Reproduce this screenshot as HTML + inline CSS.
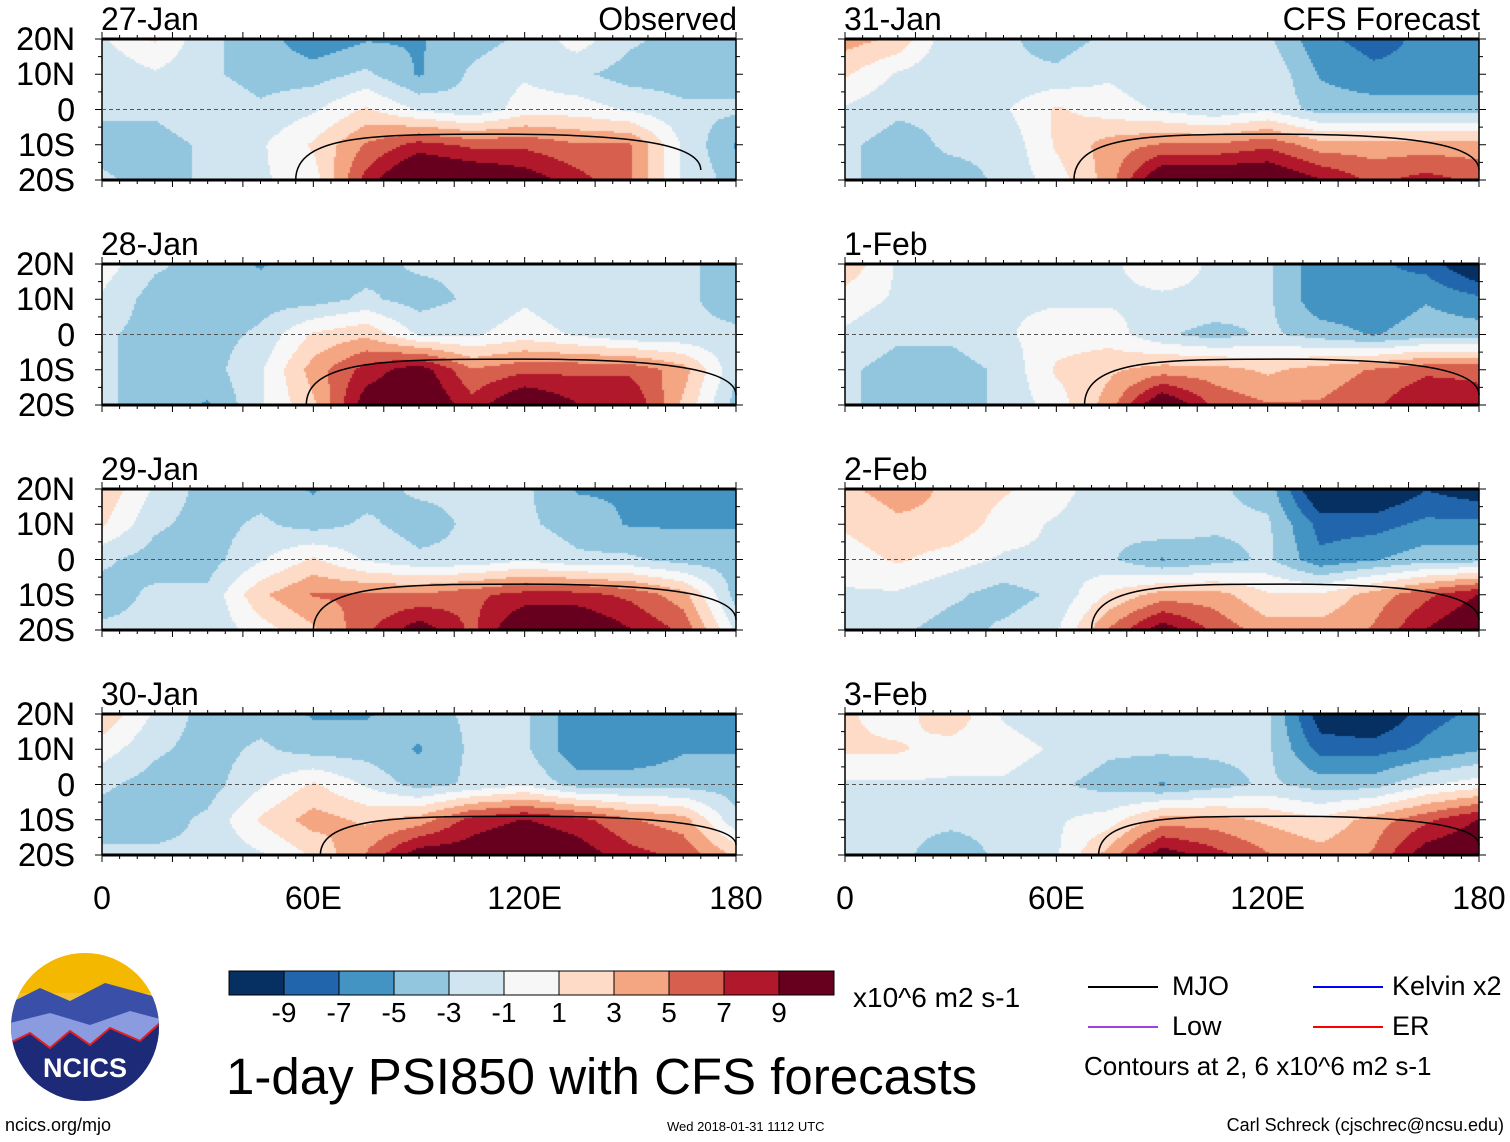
<!DOCTYPE html>
<html><head><meta charset="utf-8">
<style>
body{margin:0;background:#fff;width:1510px;height:1142px;position:relative;overflow:hidden;font-family:"Liberation Sans",sans-serif;color:#000}
.abs{position:absolute;white-space:nowrap}
.lab{font-size:32px;line-height:32px}
canvas{position:absolute}
#svg{z-index:5}
</style></head><body>
<div id="root"></div>
<svg id="svg" width="1510" height="1142" style="position:absolute;left:0;top:0"></svg>
<script>
// Grid nodes: rows 20N,10N,0,10S,20S; columns 0..180E every 15 deg
const panelDates=["27-Jan","28-Jan","29-Jan","30-Jan","31-Jan","1-Feb","2-Feb","3-Feb"];
const f0=[[-1,1,-2,-3,-5,-4,-4,-3,-2,0,-2,-3,-3],[-2,-1,-2,-3,-3,-2,-4,-2,-1,-2,-3,-3,-3],[-2,-2,-1,-2,-1,1,-1,-2,0,0,-1,-2,-2],[-3,-3,-2,-1,1,4,6,5,5,4,4,-1,-4],[-2,-3,-2,-1,0,6,10,9,8,6,4,-1,-3]];
const f1=[[0,-2,-3,-4,-3,-3,-2,-2,-2,-2,-2,-2,-3],[-1,-3,-3,-3,-3,-2,-3,-2,-1,-2,-2,-2,-3],[-2,-3,-3,-2,1,2,-1,-1,0,-1,-2,-2,-2],[-2,-3,-3,-1,3,6,8,4,5,5,5,3,-2],[-2,-3,-4,-1,2,8,9,6,9,7,7,2,-3]];
const f2=[[2,-1,-3,-3,-4,-3,-2,-2,-2,-4,-4,-4,-4],[1,-2,-3,-2,-3,-2,-3,-2,-2,-3,-4,-4,-4],[-2,-3,-3,-1,1,-1,-2,-2,-1,-2,-2,-3,-3],[-3,-2,-2,2,4,4,4,5,6,6,5,3,-3],[-2,-2,-2,0,2,5,8,5,9,9,7,5,-1]];
const f3=[[2,-1,-3,-3,-4,-4,-3,-2,-2,-5,-5,-4,-4],[0,-2,-3,-2,-3,-3,-4,-2,-2,-5,-5,-4,-4],[-2,-3,-3,-1,1,-1,-3,-2,-1,-3,-3,-3,-3],[-3,-3,-2,1,3,2,3,6,7,6,4,3,-2],[-2,-2,-2,-1,1,4,8,8,9,8,6,5,2]];
const f4=[[3,2,-2,-2,-3,-2,-1,-2,-2,-5,-6,-5,-5],[1,-1,-2,-2,-2,-1,-2,-1,-1,-4,-5,-5,-5],[-1,-2,-2,-1,1,0,-1,-2,-1,-3,-3,-3,-3],[-2,-3,-2,-2,1,3,4,4,5,3,3,3,3],[-2,-3,-3,-2,0,3,9,9,9,7,5,6,5]];
const f5=[[2,-1,-1,-2,-2,-1,0,-1,-2,-5,-5,-6,-9],[0,-1,-2,-1,-1,-1,-1,-1,-2,-5,-5,-4,-5],[-1,-2,-2,-1,0,0,-2,-3,-2,-3,-4,-3,-3],[-2,-3,-3,-2,1,2,3,3,2,3,4,5,5],[-2,-3,-3,-2,0,3,9,5,4,4,5,7,6]];
const f6=[[2,3,2,1,0,-2,-1,-2,-3,-9,-9,-7,-8],[1,2,2,0,-1,-2,-1,-2,-2,-6,-6,-5,-5],[0,1,0,-1,-1,-2,-4,-3,-2,-5,-4,-3,-3],[-1,-1,-2,-3,-2,1,3,3,1,1,3,5,7],[-2,-2,-3,-2,-1,4,8,5,3,3,4,7,9]];
const f7=[[1,0,2,-1,-2,-2,-2,-2,-2,-8,-9,-6,-5],[1,1,0,0,-1,-2,-2,-2,-2,-6,-6,-5,-4],[-1,-1,-1,-1,-2,-3,-4,-3,-2,-3,-3,-1,0],[-2,-2,-2,-2,-1,0,3,3,2,1,3,5,7],[-2,-2,-3,-2,-1,3,8,6,4,3,4,8,9]];
const fields=[f0,f1,f2,f3,f4,f5,f6,f7];
// MJO arc start/end longitudes and top latitude
const mjoStart=[55,58,60,62,65,68,70,72];
const mjoEnd=[170,180,180,180,180,180,180,180];
const mjoTop=[-7,-7,-7,-9,-7,-7,-7,-9];
const colors=["#053061","#2166ac","#4393c3","#92c5de","#d1e5f0","#f7f7f7","#fddbc7","#f4a582","#d6604d","#b2182b","#67001f"];
const bounds=[-9,-7,-5,-3,-1,1,3,5,7,9];
const cbLabels=["-9","-7","-5","-3","-1","1","3","5","7","9"];
const latLabels=["20N","10N","0","10S","20S"];
const lonLabels=["0","60E","120E","180"];
const lonVals=[0,60,120,180];
const fieldScale=1.3;

const W=634,H=141,colX=[102,845],rowY=[39,264,489,714];
const root=document.getElementById('root');
const svg=document.getElementById('svg');
const NS="http://www.w3.org/2000/svg";
function xs(lon,x0){return x0+lon/180*W;}
function ys(lat,y0){return y0+(20-lat)/40*H;}
function colorOf(v){let i=0;while(i<bounds.length&&v>=bounds[i])i++;return colors[i];}
function sample(f,lon,lat){
  const c=lon/15,r=(20-lat)/10;
  const c0=Math.min(11,Math.floor(c)),r0=Math.min(3,Math.floor(r));
  const tx=c-c0,ty=r-r0;
  return fieldScale*(f[r0][c0]*(1-tx)*(1-ty)+f[r0][c0+1]*tx*(1-ty)+f[r0+1][c0]*(1-tx)*ty+f[r0+1][c0+1]*tx*ty);
}
function div(cls,name,txt,css){const d=document.createElement('div');d.className=cls;d.textContent=txt;d.style.cssText=css;


root.appendChild(d);return d;}
function ln(x1,y1,x2,y2,name,extra){const t=document.createElementNS(NS,'line');
  t.setAttribute('x1',x1);t.setAttribute('x2',x2);t.setAttribute('y1',y1);t.setAttribute('y2',y2);t.setAttribute('stroke','#000');
  if(extra)for(const k in extra)t.setAttribute(k,extra[k]);
  
  
  svg.appendChild(t);}

for(let p=0;p<8;p++){
  const col=p<4?0:1,row=p%4,x0=colX[col],y0=rowY[row];
  const cv=document.createElement('canvas');cv.width=W;cv.height=H;
  cv.style.left=x0+'px';cv.style.top=y0+'px';
  
  
  root.appendChild(cv);
  const ctx=cv.getContext('2d');const s=2;
  for(let py=0;py<H;py+=s)for(let px=0;px<W;px+=s){
    const lon=(px+s/2)/W*180,lat=20-(py+s/2)/H*40;
    ctx.fillStyle=colorOf(sample(fields[p],lon,lat));ctx.fillRect(px,py,s,s);
  }
  ln(x0,y0,x0+W,y0,'panel-top-border',{'stroke-width':'3'});
  ln(x0,y0+H,x0+W,y0+H,'panel-bottom-border',{'stroke-width':'3'});
  ln(x0,y0,x0,y0+H,'panel-left-border',{'stroke-width':'1.5'});
  ln(x0+W,y0,x0+W,y0+H,'panel-right-border',{'stroke-width':'1.5'});
  ln(x0,ys(0,y0),x0+W,ys(0,y0),'equator-line',{'stroke':'#555','stroke-dasharray':'4,3'});
  const a=xs(mjoStart[p],x0),b=xs(mjoEnd[p],x0),yb=ys(-20,y0),yt=ys(mjoTop[p],y0);
  const arc=document.createElementNS(NS,'path');
  arc.setAttribute('d',`M${a},${yb} C${a},${yt} ${a+(b-a)*0.2},${yt} ${(a+b)/2},${yt} S${b},${yt+8} ${b},${yb-10}`);
  arc.setAttribute('fill','none');arc.setAttribute('stroke','#000');arc.setAttribute('stroke-width','1.5');
  
  
  svg.appendChild(arc);
  for(let k=0;k<=36;k++){const tx=x0+k*W/36;
    ln(tx,y0+H,tx,y0+H+(k%4==0?7:4),'x-tick');
    ln(tx,y0,tx,y0-(k%4==0?7:4),'x-tick-top');}
  for(let k=0;k<=8;k++){const ty=y0+k*H/8;
    ln(x0,ty,x0-(k%2==0?7:4),ty,'y-tick');
    ln(x0+W,ty,x0+W+(k%2==0?7:4),ty,'y-tick-right');}
  div('abs lab','panel-date',panelDates[p],`left:${x0-1}px;top:${y0-36}px`);
  for(let k=0;k<5;k++) div('abs lab','lat-label',latLabels[k],`left:0px;width:75px;text-align:right;top:${y0+k*H/4-16}px`);
}
div('abs lab','observed-label','Observed',`right:${1510-737}px;top:3px`);
div('abs lab','cfs-forecast-label','CFS Forecast',`right:${1510-1480}px;top:3px`);
for(let c=0;c<2;c++)for(let k=0;k<4;k++){
  const x=xs(lonVals[k],colX[c]);
  div('abs lab','lon-label',lonLabels[k],`left:${x-60}px;width:120px;text-align:center;top:882px`);
}
for(let i=0;i<11;i++){const r=document.createElementNS(NS,'rect');
  r.setAttribute('x',229+i*55);r.setAttribute('y',971);r.setAttribute('width',55);r.setAttribute('height',24);
  r.setAttribute('fill',colors[i]);r.setAttribute('stroke','#000');
  
  
  svg.appendChild(r);}
for(let i=0;i<10;i++) div('abs','colorbar-label',cbLabels[i],`left:${284+i*55-30}px;width:60px;text-align:center;top:997px;font-size:28px`);
</script>
<div class="abs" style="left:853px;top:982px;font-size:28px">x10^6 m2 s-1</div>
<div class="abs" style="left:226px;top:1047px;font-size:51px">1-day PSI850 with CFS forecasts</div>
<div>
<div class="abs" style="left:1088px;top:986px;width:70px;border-top:2px solid #000"></div>
<div class="abs" style="left:1172px;top:971px;font-size:27px">MJO</div>
<div class="abs" style="left:1313px;top:986px;width:70px;border-top:2px solid #0000ff"></div>
<div class="abs" style="left:1392px;top:971px;font-size:27px">Kelvin x2</div>
<div class="abs" style="left:1088px;top:1026px;width:70px;border-top:2px solid #a040e0"></div>
<div class="abs" style="left:1172px;top:1011px;font-size:27px">Low</div>
<div class="abs" style="left:1313px;top:1026px;width:70px;border-top:2px solid #ff0000"></div>
<div class="abs" style="left:1392px;top:1011px;font-size:27px">ER</div>
<div class="abs" style="left:1084px;top:1051px;font-size:26px">Contours at 2, 6 x10^6 m2 s-1</div>
</div>
<svg class="abs" style="left:10px;top:953px" width="150" height="150">
<defs><clipPath id="cc"><circle cx="75" cy="74" r="74"/></clipPath></defs>
<g clip-path="url(#cc)">
<rect width="150" height="150" fill="#f2c230"/>
<rect y="0" width="150" height="40" fill="#f5b800"/>
<path d="M0,50 L30,35 L60,48 L95,30 L150,45 L150,150 L0,150Z" fill="#3a4fa8"/>
<path d="M0,70 L40,60 L80,72 L120,58 L150,66 L150,150 L0,150Z" fill="#8a9be0"/>
<path d="M0,90 L20,80 L40,95 L60,78 L80,92 L100,75 L130,88 L150,70 L150,150 L0,150Z" fill="#1c2a78" stroke="#e02020" stroke-width="2"/>
</g>
<text x="75" y="124" text-anchor="middle" font-family="Liberation Sans" font-weight="bold" font-size="27" fill="#fff">NCICS</text>
</svg>
<div class="abs" style="left:5px;top:1115px;font-size:18px">ncics.org/mjo</div>
<div class="abs" style="left:667px;top:1119px;font-size:13px">Wed 2018-01-31 1112 UTC</div>
<div class="abs" style="right:6px;top:1115px;font-size:18px">Carl Schreck (cjschrec@ncsu.edu)</div>
</body></html>
